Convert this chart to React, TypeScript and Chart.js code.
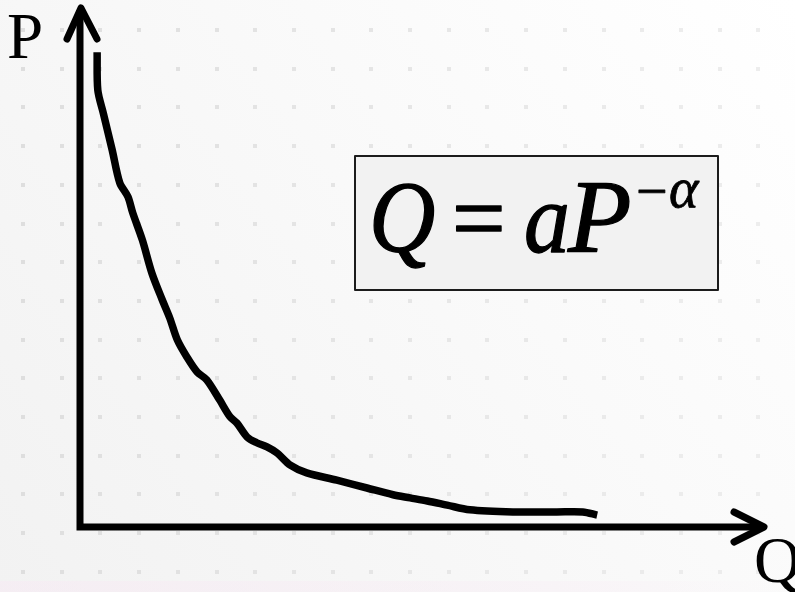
import React, { useEffect, useRef } from "react";
import { Chart, registerables } from "chart.js";

Chart.register(...registerables);

// Demand curve readings: quantity (Q) against price (P), both on a 0–100 scale.
const Q_VALUES = [
  2.5, 2.6, 3.4, 4.7, 5.8, 7.0, 7.7, 9.1, 10.5, 12.0, 13.1, 14.2, 15.6, 17.1,
  18.5, 20.4, 21.9, 22.9, 24.4, 25.8, 27.3, 28.8, 30.7, 33.1, 37.5, 41.9, 45.7,
  48.2, 50.7, 53.6, 56.9, 63.2, 69.6, 73.4, 75.5,
];
const P_VALUES = [
  91.3, 84.0, 79.6, 72.5, 66.2, 63.5, 60.4, 55.2, 48.8, 43.7, 40.2, 36.0, 32.7,
  29.8, 28.3, 24.4, 21.2, 20.0, 17.3, 16.2, 15.4, 14.2, 11.9, 10.4, 9.0, 7.5,
  6.2, 5.6, 5.0, 4.2, 3.3, 2.9, 2.9, 2.9, 2.3,
];
const AXIS_MAX_Q = 100;
const AXIS_MAX_P = 100;
const AXIS_LABEL_P = "P";
const AXIS_LABEL_Q = "Q";

const SERIF = '"Liberation Serif", "Times New Roman", serif';

// Serif glyph with optional italic face, horizontal scale and a slightly heavier stroke
function drawGlyph(
  ctx: CanvasRenderingContext2D,
  text: string,
  x: number,
  y: number,
  size: number,
  italic: boolean,
  scaleX: number,
  weight: number
) {
  ctx.save();
  ctx.translate(x, y);
  ctx.scale(scaleX, 1);
  ctx.font = `${italic ? "italic " : ""}${size}px ${SERIF}`;
  ctx.fillStyle = "#000";
  ctx.strokeStyle = "#000";
  ctx.lineJoin = "round";
  ctx.lineWidth = weight;
  ctx.fillText(text, 0, 0);
  if (weight > 0) ctx.strokeText(text, 0, 0);
  ctx.restore();
}

// Paper background with a faint dotted grid
const paperPlugin = {
  id: "paper",
  beforeDraw(chart: any) {
    const { ctx, width, height } = chart;
    ctx.save();
    const g = ctx.createLinearGradient(0, height, width, 0);
    g.addColorStop(0, "#f2f2f2");
    g.addColorStop(0.6, "#fafafa");
    g.addColorStop(1, "#ffffff");
    ctx.fillStyle = g;
    ctx.fillRect(0, 0, width, height);

    // faint tinted band along the bottom edge
    const band = ctx.createLinearGradient(0, 0, width, 0);
    band.addColorStop(0, "rgba(248,232,244,0.45)");
    band.addColorStop(0.75, "rgba(248,232,244,0.25)");
    band.addColorStop(1, "rgba(248,232,244,0)");
    ctx.fillStyle = band;
    ctx.fillRect(0, height - 11, width, 11);

    const step = 38.7;
    for (let i = 0; i < 21; i++) {
      for (let j = 0; j < 15; j++) {
        const x = 23 + i * step;
        const y = 30 + j * step;
        const fade = i / 20;
        const c = Math.round(222 + fade * 16);
        ctx.fillStyle = `rgb(${c},${c},${c})`;
        ctx.fillRect(Math.round(x - 2), Math.round(y - 2), 4, 4);
      }
    }
    ctx.restore();
  },
};

// Axes with arrowheads, axis letters and the formula box
const decorPlugin = {
  id: "decor",
  beforeDatasetsDraw(chart: any) {
    const { ctx } = chart;
    const xs = chart.scales.x;
    const ys = chart.scales.y;
    const ox = xs.getPixelForValue(0);
    const oy = ys.getPixelForValue(0);
    const topY = ys.getPixelForValue(AXIS_MAX_P);
    const rightX = xs.getPixelForValue(AXIS_MAX_Q);

    ctx.save();
    ctx.strokeStyle = "#000";
    ctx.lineWidth = 7;
    ctx.lineCap = "butt";
    ctx.lineJoin = "miter";
    ctx.beginPath();
    ctx.moveTo(ox, topY + 3);
    ctx.lineTo(ox, oy);
    ctx.lineTo(rightX - 3, oy);
    ctx.stroke();

    ctx.lineCap = "round";
    ctx.lineJoin = "round";
    // vertical arrowhead
    ctx.beginPath();
    ctx.moveTo(ox - 13, topY + 32);
    ctx.lineTo(ox + 1, topY + 1);
    ctx.lineTo(ox + 17, topY + 32);
    ctx.stroke();
    // horizontal arrowhead
    ctx.beginPath();
    ctx.moveTo(rightX - 31, oy - 15);
    ctx.lineTo(rightX - 1, oy);
    ctx.lineTo(rightX - 31, oy + 15);
    ctx.stroke();

    ctx.fillStyle = "#000";
    ctx.font = `65px ${SERIF}`;
    ctx.textBaseline = "alphabetic";
    ctx.textAlign = "left";
    ctx.fillText(AXIS_LABEL_P, 7, 58);
    ctx.fillText(AXIS_LABEL_Q, 754, 582);

    // formula box
    const bx = 355, by = 156, bw = 363, bh = 134;
    ctx.fillStyle = "#f2f2f2";
    ctx.fillRect(bx, by, bw, bh);
    ctx.lineWidth = 2;
    ctx.strokeStyle = "#1c1c1c";
    ctx.strokeRect(bx, by, bw, bh);

    // Q = aP^(−α)
    const base = 252;
    drawGlyph(ctx, "Q", 369, base, 102, true, 0.9, 1.3);
    drawGlyph(ctx, "=", 452, base, 100, false, 0.95, 1.6);
    drawGlyph(ctx, "a", 524, base, 100, true, 0.92, 1.3);
    drawGlyph(ctx, "P", 568, base, 104, true, 1, 1.3);
    drawGlyph(ctx, "\u2212", 636, 210, 56, false, 1, 0.8);
    drawGlyph(ctx, "\u03b1", 669, 207, 56, true, 1, 0.8);
    ctx.restore();
  },
};

export default function App() {
  const canvasRef = useRef<HTMLCanvasElement | null>(null);

  useEffect(() => {
    if (!canvasRef.current) return;
    const points = Q_VALUES.map((q, i) => ({ x: q, y: P_VALUES[i] }));
    const chart = new Chart(canvasRef.current, {
      type: "scatter",
      data: {
        datasets: [
          {
            label: "Demand",
            data: points,
            showLine: true,
            borderColor: "#000",
            borderWidth: 7.5,
            pointRadius: 0,
            tension: 0.3,
            borderCapStyle: "butt",
            borderJoinStyle: "round",
          } as any,
        ],
      },
      options: {
        animation: false,
        responsive: false,
        devicePixelRatio: 1,
        layout: { padding: { left: 80, right: 30, top: 7, bottom: 65 } },
        scales: {
          x: { type: "linear", min: 0, max: AXIS_MAX_Q, display: false },
          y: { type: "linear", min: 0, max: AXIS_MAX_P, display: false },
        },
        plugins: {
          legend: { display: false },
          tooltip: { enabled: false },
        },
      },
      plugins: [paperPlugin, decorPlugin],
    });
    return () => chart.destroy();
  }, []);

  return (
    <div style={{ position: "absolute", left: 0, top: 0, width: 795, height: 592, overflow: "hidden" }}>
      <canvas ref={canvasRef} width={795} height={592} style={{ display: "block" }} />
    </div>
  );
}
